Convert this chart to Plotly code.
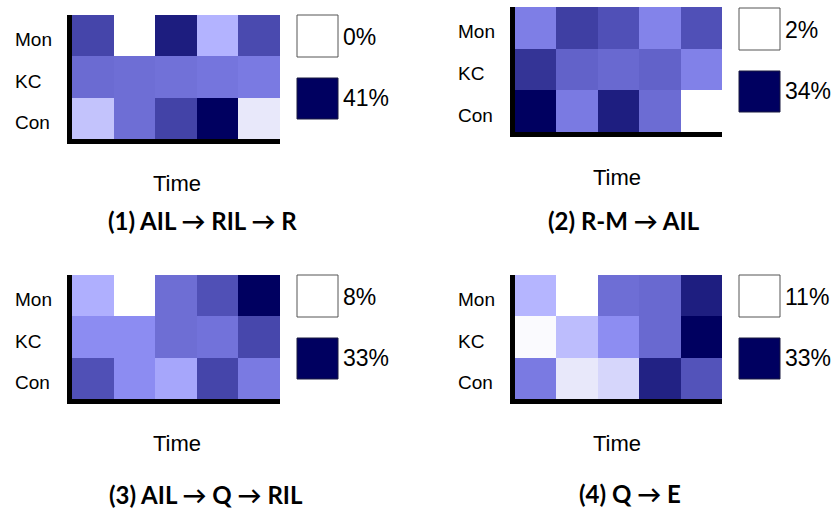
import plotly.graph_objects as go

W, H = 838, 510

rows = ["Mon", "KC", "Con"]
times = [1, 2, 3, 4, 5]

# values in percent (rows: Mon, KC, Con; columns: 5 time steps)
p1_values = [[29.5, 0.0, 37.0, 12.3, 28.7],
             [23.0, 22.5, 22.0, 21.3, 20.5],
             [9.0, 22.5, 30.0, 41.0, 3.3]]
p2_values = [[17.4, 26.0, 23.4, 16.7, 23.4],
             [27.6, 21.2, 20.2, 21.2, 17.0],
             [34.0, 18.0, 30.8, 19.9, 2.0]]
p3_values = [[15.8, 8.0, 21.8, 24.8, 33.0],
             [18.5, 18.5, 21.8, 21.3, 25.8],
             [24.8, 18.5, 16.5, 26.0, 20.5]]
p4_values = [[17.4, 11.0, 23.1, 23.5, 30.8],
             [11.4, 16.5, 20.2, 23.5, 33.0],
             [22.0, 12.8, 14.3, 30.4, 25.5]]

p_min = [0, 2, 8, 11]
p_max = [41, 34, 33, 33]
titles = ["(1) AIL → RIL → R", "(2) R-M → AIL", "(3) AIL → Q → RIL", "(4) Q → E"]

colorscale = [
    [0.0, "rgb(255,255,255)"], [0.08, "rgb(232,232,250)"], [0.22, "rgb(195,195,252)"],
    [0.3, "rgb(179,179,255)"], [0.42, "rgb(140,140,242)"], [0.5, "rgb(122,122,226)"],
    [0.55, "rgb(110,110,213)"], [0.67, "rgb(80,80,183)"], [0.8, "rgb(52,52,150)"],
    [0.9, "rgb(30,30,128)"], [1.0, "rgb(0,0,96)"],
]
navy = "rgb(0,0,96)"

# layout geometry in pixels: (x0, x1, y0, y1) of heatmap cells
boxes = [(72, 280, 15, 139), (515, 722, 7, 132), (72, 280, 275, 399), (515, 722, 275, 399)]
legend_x = [297, 739, 297, 739]
legend_top = [(15, 78), (8, 71), (275, 338), (275, 338)]
ylabel_x = [13, 456, 13, 456]
time_pos = [(177, 183), (617, 177), (177, 443), (617, 443)]
title_pos = [(202, 220), (624, 220), (206, 494), (630, 493)]

def px(x):
    return x / W

def py(y):
    return 1 - y / H

values = [p1_values, p2_values, p3_values, p4_values]
fig = go.Figure()
annotations = []
shapes = []
label_font = dict(family="Liberation Sans, Arial", size=19, color="black")
time_font = dict(family="Liberation Sans, Arial", size=22, color="black")
leg_font = dict(family="Liberation Sans, Arial", size=23, color="black")

for i in range(4):
    sfx = "" if i == 0 else str(i + 1)
    fig.add_trace(go.Heatmap(
        z=values[i], x=times, y=rows, zmin=p_min[i], zmax=p_max[i],
        colorscale=colorscale, showscale=False, xaxis="x" + sfx, yaxis="y" + sfx,
        hovertemplate="%{y}, t=%{x}: %{z}%<extra></extra>",
    ))
    x0, x1, y0, y1 = boxes[i]
    fig.layout["xaxis" + sfx] = dict(
        domain=[px(x0), px(x1)], anchor="y" + sfx, showline=True, linecolor="black",
        linewidth=5, showticklabels=False, ticks="", showgrid=False, zeroline=False,
        range=[0.5, 5.5], fixedrange=True)
    fig.layout["yaxis" + sfx] = dict(
        domain=[py(y1), py(y0)], anchor="x" + sfx, showline=True, linecolor="black",
        linewidth=5, showticklabels=False, ticks="", showgrid=False, zeroline=False,
        autorange="reversed", fixedrange=True)
    for r in rows:
        annotations.append(dict(
            x=px(ylabel_x[i]), xref="paper", y=r, yref="y" + sfx, text=r,
            showarrow=False, xanchor="left", yanchor="middle", yshift=-4, font=label_font))
    lx = legend_x[i]
    t_white, t_dark = legend_top[i]
    shapes.append(dict(type="rect", xref="paper", yref="paper",
                       x0=px(lx), x1=px(lx + 41), y0=py(t_white + 42), y1=py(t_white),
                       fillcolor="white", line=dict(color="#555555", width=1)))
    shapes.append(dict(type="rect", xref="paper", yref="paper",
                       x0=px(lx), x1=px(lx + 41), y0=py(t_dark + 41), y1=py(t_dark),
                       fillcolor=navy, line=dict(color="#1a1a40", width=1)))
    annotations.append(dict(x=px(lx + 44), y=py(t_white + 22), xref="paper", yref="paper",
                            text=f"{p_min[i]}%", showarrow=False, xanchor="left",
                            yanchor="middle", font=leg_font))
    annotations.append(dict(x=px(lx + 44), y=py(t_dark + 20), xref="paper", yref="paper",
                            text=f"{p_max[i]}%", showarrow=False, xanchor="left",
                            yanchor="middle", font=leg_font))
    tx, ty = time_pos[i]
    annotations.append(dict(x=px(tx), y=py(ty), xref="paper", yref="paper", text="Time",
                            showarrow=False, xanchor="center", yanchor="middle", font=time_font))
    hx, hy = title_pos[i]
    annotations.append(dict(x=px(hx), y=py(hy), xref="paper", yref="paper",
                            text=f"<b>{titles[i]}</b>", showarrow=False, xanchor="center",
                            yanchor="middle",
                            font=dict(family="Lato, Carlito, Calibri, sans-serif", size=24,
                                      color="black")))

fig.update_layout(
    width=W, height=H, margin=dict(l=0, r=0, t=0, b=0),
    paper_bgcolor="white", plot_bgcolor="white", showlegend=False,
    annotations=annotations, shapes=shapes,
)

fig.write_html("out.html", config={"displayModeBar": False},
               post_script="document.body.style.margin='0';document.body.style.overflow='hidden';")
